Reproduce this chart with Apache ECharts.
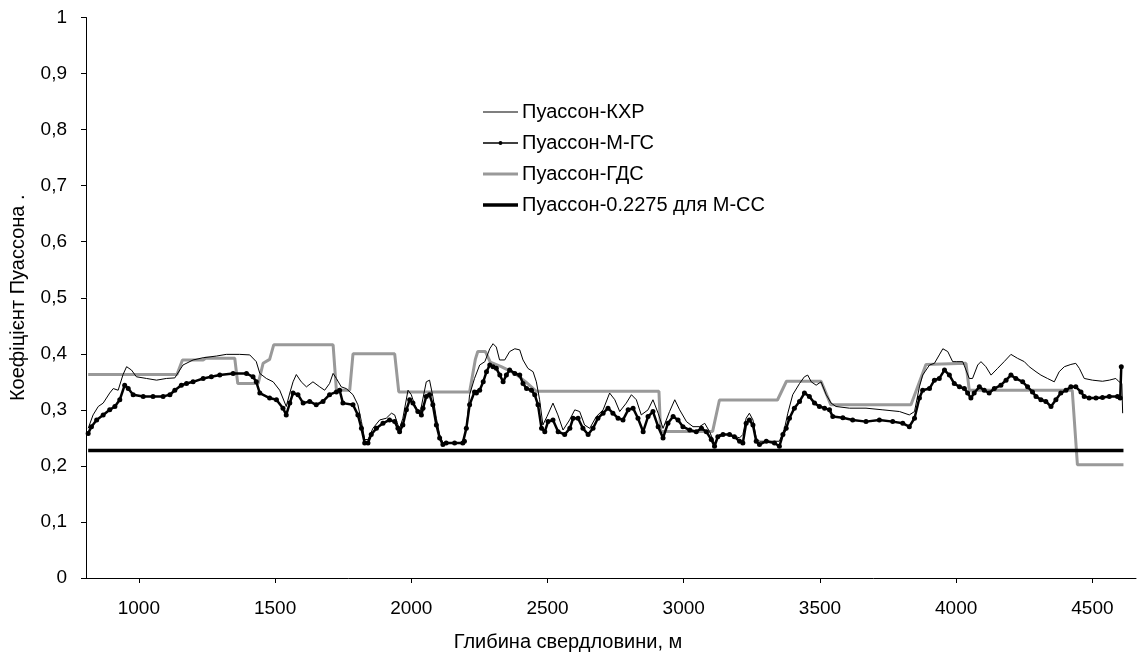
<!DOCTYPE html>
<html>
<head>
<meta charset="utf-8">
<title>Коефіцієнт Пуассона</title>
<script src="https://cdn.jsdelivr.net/npm/echarts@6/dist/echarts.min.js"></script>
<style>
  html, body { margin: 0; padding: 0; background: #fff; }
  #chart { width: 1139px; height: 657px; }
</style>
</head>
<body>
<div id="chart"></div>
<script>
// Пуассон-КХР
const khrDepth = [814, 832, 851, 869, 893, 906, 924, 942, 955, 973, 991, 1028, 1065, 1101, 1132, 1162, 1199, 1236, 1285, 1321,
  1370, 1407, 1431, 1444, 1468, 1493, 1517, 1541, 1554, 1566, 1578, 1596, 1615, 1639, 1664, 1682, 1700, 1713, 1725, 1743,
  1761, 1786, 1804, 1817, 1829, 1841, 1859, 1884, 1908, 1927, 1939, 1951, 1957, 1969, 1988, 2000, 2012, 2031, 2043, 2055,
  2067, 2079, 2092, 2104, 2116, 2141, 2165, 2189, 2202, 2214, 2232, 2251, 2270, 2288, 2300, 2312, 2324, 2343, 2361, 2380,
  2398, 2410, 2428, 2447, 2459, 2471, 2483, 2498, 2520, 2538, 2557, 2581, 2600, 2618, 2636, 2655, 2679, 2704, 2728, 2747,
  2765, 2789, 2808, 2826, 2844, 2869, 2887, 2906, 2924, 2948, 2967, 2985, 3010, 3034, 3058, 3077, 3095, 3113, 3131, 3168,
  3205, 3217, 3229, 3241, 3254, 3266, 3278, 3351, 3370, 3382, 3400, 3425, 3443, 3455, 3468, 3486, 3504, 3523, 3541, 3559,
  3608, 3669, 3731, 3792, 3828, 3847, 3865, 3877, 3902, 3920, 3938, 3951, 3969, 3987, 4000, 4024, 4048, 4060, 4079, 4091,
  4109, 4128, 4152, 4176, 4201, 4225, 4250, 4268, 4293, 4311, 4335, 4360, 4378, 4397, 4421, 4439, 4452, 4470, 4500, 4537,
  4562, 4586, 4598, 4608, 4611];
const khrValue = [0.267, 0.291, 0.306, 0.312, 0.330, 0.338, 0.335, 0.363, 0.377, 0.371, 0.359, 0.356, 0.353, 0.356, 0.357, 0.380, 0.389, 0.393, 0.396, 0.399,
  0.399, 0.398, 0.386, 0.365, 0.356, 0.350, 0.335, 0.306, 0.330, 0.350, 0.363, 0.350, 0.341, 0.350, 0.341, 0.335, 0.347, 0.365, 0.356, 0.341,
  0.338, 0.327, 0.309, 0.279, 0.247, 0.247, 0.267, 0.282, 0.285, 0.294, 0.291, 0.273, 0.267, 0.285, 0.335, 0.327, 0.309, 0.291, 0.321, 0.350,
  0.353, 0.324, 0.285, 0.256, 0.241, 0.240, 0.241, 0.242, 0.267, 0.327, 0.356, 0.380, 0.386, 0.409, 0.418, 0.412, 0.389, 0.389, 0.404, 0.409,
  0.407, 0.389, 0.374, 0.368, 0.350, 0.318, 0.273, 0.288, 0.312, 0.291, 0.264, 0.282, 0.300, 0.297, 0.273, 0.267, 0.288, 0.300, 0.330, 0.318,
  0.297, 0.312, 0.327, 0.318, 0.291, 0.300, 0.318, 0.294, 0.267, 0.297, 0.318, 0.300, 0.279, 0.270, 0.270, 0.276, 0.261, 0.240, 0.256, 0.256,
  0.250, 0.256, 0.285, 0.294, 0.282, 0.250, 0.244, 0.244, 0.267, 0.294, 0.327, 0.347, 0.359, 0.362, 0.350, 0.344, 0.350, 0.327, 0.312, 0.306,
  0.303, 0.303, 0.300, 0.297, 0.291, 0.297, 0.341, 0.362, 0.380, 0.383, 0.398, 0.409, 0.404, 0.386, 0.386, 0.386, 0.356, 0.356, 0.380, 0.386,
  0.377, 0.362, 0.374, 0.386, 0.399, 0.392, 0.386, 0.377, 0.368, 0.362, 0.356, 0.350, 0.368, 0.377, 0.381, 0.383, 0.374, 0.356, 0.353, 0.351,
  0.353, 0.356, 0.350, 0.347, 0.294];

// Пуассон-М-ГС
const mgsDepth = [814, 826, 845, 869, 893, 912, 930, 948, 961, 979, 1016, 1052, 1089, 1114, 1132, 1156, 1175, 1199, 1236, 1266,
  1297, 1346, 1395, 1419, 1431, 1444, 1480, 1505, 1529, 1541, 1554, 1566, 1584, 1603, 1627, 1651, 1676, 1700, 1725, 1737,
  1749, 1786, 1804, 1817, 1829, 1841, 1853, 1872, 1896, 1920, 1939, 1951, 1957, 1969, 1982, 1994, 2006, 2024, 2037, 2043,
  2055, 2067, 2079, 2092, 2104, 2116, 2128, 2159, 2189, 2195, 2202, 2214, 2232, 2239, 2251, 2264, 2276, 2288, 2300, 2312,
  2325, 2337, 2349, 2361, 2380, 2398, 2410, 2423, 2441, 2453, 2465, 2478, 2490, 2502, 2520, 2539, 2563, 2582, 2594, 2612,
  2630, 2649, 2667, 2685, 2704, 2722, 2740, 2759, 2777, 2796, 2814, 2832, 2851, 2869, 2887, 2906, 2924, 2942, 2961, 2979,
  2997, 3022, 3046, 3065, 3083, 3101, 3113, 3125, 3144, 3168, 3186, 3205, 3217, 3229, 3241, 3254, 3266, 3278, 3303, 3333,
  3351, 3364, 3376, 3388, 3406, 3425, 3443, 3461, 3480, 3498, 3517, 3535, 3547, 3584, 3620, 3669, 3718, 3767, 3804, 3828,
  3847, 3865, 3877, 3902, 3920, 3938, 3957, 3975, 3993, 4012, 4030, 4042, 4054, 4066, 4085, 4103, 4121, 4140, 4164, 4183,
  4201, 4219, 4244, 4262, 4280, 4293, 4311, 4329, 4348, 4366, 4384, 4403, 4421, 4439, 4458, 4470, 4488, 4513, 4537, 4562,
  4592, 4602, 4606];
const mgsValue = [0.258, 0.270, 0.282, 0.291, 0.300, 0.306, 0.318, 0.344, 0.338, 0.327, 0.324, 0.324, 0.324, 0.327, 0.335, 0.344, 0.347, 0.350, 0.356, 0.359,
  0.362, 0.365, 0.365, 0.359, 0.350, 0.330, 0.321, 0.318, 0.303, 0.291, 0.312, 0.330, 0.327, 0.312, 0.315, 0.309, 0.315, 0.327, 0.332, 0.335,
  0.312, 0.309, 0.291, 0.267, 0.241, 0.241, 0.256, 0.267, 0.276, 0.282, 0.279, 0.267, 0.261, 0.273, 0.300, 0.318, 0.312, 0.297, 0.291, 0.303,
  0.324, 0.327, 0.309, 0.273, 0.250, 0.238, 0.241, 0.241, 0.241, 0.244, 0.267, 0.309, 0.332, 0.330, 0.335, 0.350, 0.368, 0.380, 0.377, 0.374,
  0.362, 0.350, 0.362, 0.371, 0.365, 0.362, 0.347, 0.338, 0.335, 0.327, 0.309, 0.267, 0.261, 0.279, 0.282, 0.261, 0.256, 0.267, 0.285, 0.285,
  0.267, 0.256, 0.267, 0.285, 0.294, 0.303, 0.294, 0.285, 0.282, 0.300, 0.303, 0.285, 0.261, 0.288, 0.297, 0.270, 0.250, 0.276, 0.288, 0.282,
  0.270, 0.264, 0.261, 0.267, 0.261, 0.247, 0.235, 0.252, 0.256, 0.256, 0.252, 0.244, 0.241, 0.276, 0.282, 0.273, 0.244, 0.238, 0.244, 0.241,
  0.235, 0.256, 0.267, 0.285, 0.303, 0.315, 0.330, 0.324, 0.312, 0.306, 0.303, 0.300, 0.288, 0.286, 0.282, 0.279, 0.282, 0.279, 0.276, 0.270,
  0.285, 0.321, 0.335, 0.338, 0.353, 0.356, 0.371, 0.362, 0.347, 0.341, 0.338, 0.330, 0.321, 0.330, 0.341, 0.335, 0.330, 0.338, 0.344, 0.353,
  0.362, 0.356, 0.350, 0.341, 0.332, 0.324, 0.318, 0.315, 0.306, 0.318, 0.330, 0.335, 0.341, 0.341, 0.332, 0.324, 0.321, 0.321, 0.322, 0.324,
  0.324, 0.321, 0.377];

// Пуассон-ГДС (ступінчаста)
const gdsDepth = [814, 1140, 1160, 1236, 1245, 1352, 1363, 1438, 1456, 1480, 1495, 1713, 1725, 1774, 1786, 1939, 1954, 2214, 2235, 2244,
  2272, 2290, 2330, 2380, 2420, 2459, 2909, 2915, 3106, 3131, 3344, 3377, 3504, 3540, 3834, 3889, 4036, 4048, 4426, 4445, 4614];
const gdsValue = [0.363, 0.363, 0.389, 0.389, 0.392, 0.392, 0.347, 0.347, 0.383, 0.39, 0.416, 0.416, 0.335, 0.335, 0.400, 0.400, 0.332, 0.332, 0.39, 0.404,
  0.404, 0.385, 0.377, 0.365, 0.35, 0.333, 0.333, 0.2615, 0.2615, 0.3176, 0.3176, 0.351, 0.351, 0.309, 0.309, 0.381, 0.383, 0.335, 0.335, 0.202, 0.202];

// Пуассон-0.2275 для М-СС
const constDepth = [814, 4614];
const constValue = [0.2275, 0.2275];

const seriesNames = ["Пуассон-КХР", "Пуассон-М-ГС", "Пуассон-ГДС", "Пуассон-0.2275 для М-СС"];

function pairs(xs, ys) {
  return xs.map((x, i) => [x, ys[i]]);
}

const font = "'Liberation Sans', Arial, sans-serif";
const chart = echarts.init(document.getElementById("chart"));

// значки легенди: лінія потрібної товщини (для М-ГС ще й точка)
const legendIcons = {
  "Пуассон-КХР": "path://M0,0H35V1H0Z",
  "Пуассон-М-ГС": "path://M0,9.25H35V10.75H0Z M15.5,10A2,2 0 1 1 19.5,10A2,2 0 1 1 15.5,10Z",
  "Пуассон-ГДС": "path://M0,0H35V3H0Z",
  "Пуассон-0.2275 для М-СС": "path://M0,0H35V3.5H0Z"
};

const options = {
  animation: false,
  backgroundColor: "#fff",
  textStyle: { fontFamily: font, color: "#000" },
  grid: { left: 86, right: 3, top: 17.5, bottom: 76.5 },
  legend: {
    data: seriesNames.map(n => ({ name: n, icon: legendIcons[n] })),
    orient: "vertical",
    left: 478,
    top: 97,
    itemWidth: 35,
    itemHeight: 20,
    itemGap: 11,
    itemStyle: { borderWidth: 0 },
    textStyle: { fontFamily: font, fontSize: 20, color: "#000", padding: [0, 0, 0, -1] }
  },
  xAxis: {
    type: "value",
    min: 806,
    max: 4660,
    splitNumber: 8,
    name: "Глибина свердловини, м",
    nameLocation: "middle",
    nameGap: 54,
    nameTextStyle: { fontFamily: font, fontSize: 20, color: "#000", padding: [0, 86, 0, 0] },
    axisLine: { lineStyle: { color: "#000", width: 1 } },
    axisTick: { length: 5, lineStyle: { color: "#000" } },
    axisLabel: {
      margin: 21,
      fontSize: 19,
      color: "#000",
      fontFamily: font,
      showMinLabel: false,
      showMaxLabel: false,
      formatter: v => (v % 500 === 0 ? String(v) : "")
    },
    splitLine: { show: false }
  },
  yAxis: {
    type: "value",
    min: 0,
    max: 1,
    interval: 0.1,
    name: "Коефіцієнт Пуассона .",
    nameLocation: "middle",
    nameGap: 58,
    nameTextStyle: { fontFamily: font, fontSize: 20, color: "#000" },
    axisLine: { show: true, lineStyle: { color: "#000", width: 1 } },
    axisTick: { show: true, length: 5, lineStyle: { color: "#000" } },
    axisLabel: {
      margin: 19,
      fontSize: 19,
      color: "#000",
      fontFamily: font,
      formatter: v => String(+v.toFixed(1)).replace(".", ",")
    },
    splitLine: { show: false }
  },
  series: [
    {
      name: "Пуассон-ГДС",
      type: "line",
      data: pairs(gdsDepth, gdsValue),
      symbol: "none",
      lineStyle: { color: "#999999", width: 3 },
      itemStyle: { color: "#999999" },
      z: 1
    },
    {
      name: "Пуассон-КХР",
      type: "line",
      data: pairs(khrDepth, khrValue),
      symbol: "none",
      lineStyle: { color: "#000", width: 1 },
      itemStyle: { color: "#000" },
      z: 2
    },
    {
      name: "Пуассон-М-ГС",
      type: "line",
      data: pairs(mgsDepth, mgsValue),
      symbol: "circle",
      symbolSize: 5,
      showSymbol: true,
      lineStyle: { color: "#000", width: 2.5 },
      itemStyle: { color: "#000" },
      z: 3
    },
    {
      name: "Пуассон-0.2275 для М-СС",
      type: "line",
      data: pairs(constDepth, constValue),
      symbol: "none",
      lineStyle: { color: "#000", width: 3.5 },
      itemStyle: { color: "#000" },
      z: 4
    }
  ]
};

chart.setOption(options);
</script>
</body>
</html>
